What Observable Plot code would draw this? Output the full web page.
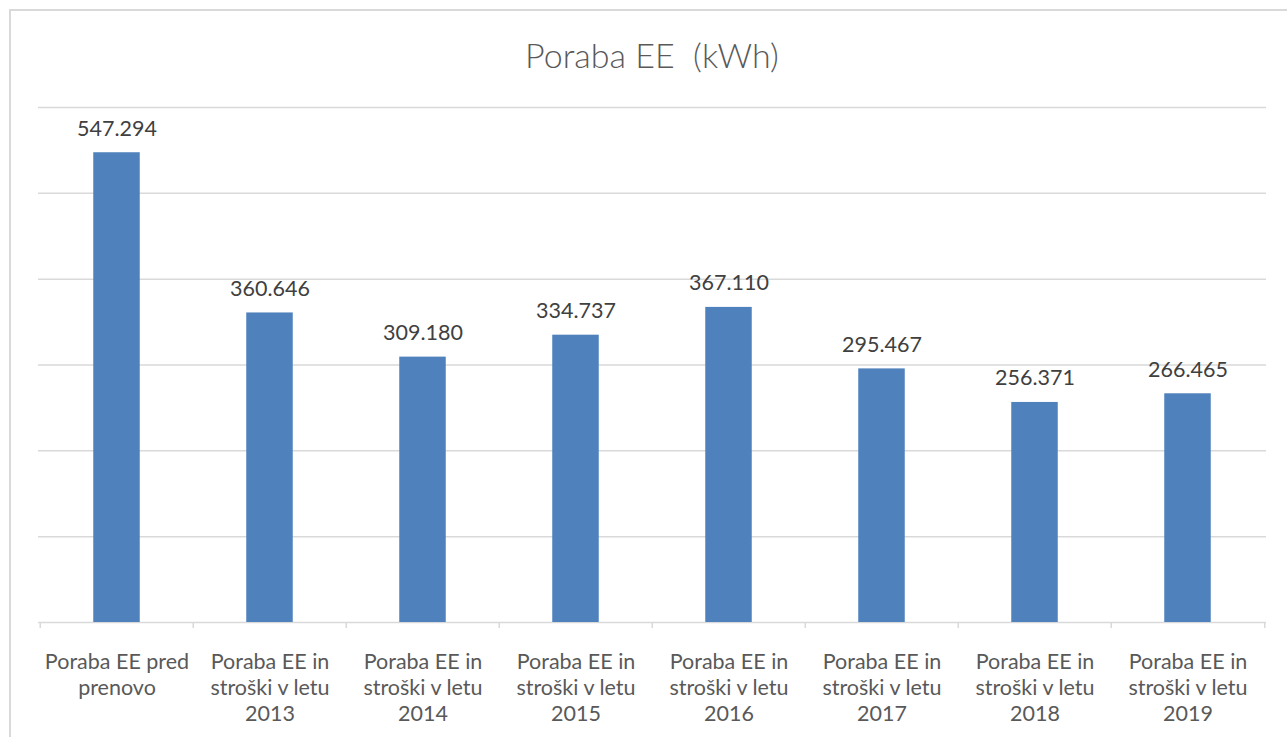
<!DOCTYPE html>
<html>
<head>
<meta charset="utf-8">
<script src="https://cdn.jsdelivr.net/npm/d3@7"></script>
<script src="https://cdn.jsdelivr.net/npm/@observablehq/plot@0.6"></script>
<style>
  html, body { margin: 0; padding: 0; background: #fff; overflow: hidden; }
  #wrap { position: absolute; left: 0; top: 0; width: 1287px; height: 737px; overflow: hidden; }
  #frame { position: absolute; left: 9px; top: 9px; width: 1300px; height: 800px; border: 2px solid #d9d9d9; box-sizing: border-box; }
  #title { position: absolute; left: 0; top: 33px; width: 1304px; text-align: center; font-family: Lato, sans-serif; font-weight: 300; font-size: 34px; color: #595959; white-space: pre; line-height: 44px; }
  #chart { position: absolute; left: 0; top: 100px; }
</style>
</head>
<body>
<div id="wrap">
  <div id="frame"></div>
  <div id="title">Poraba EE  (kWh)</div>
  <div id="chart"></div>
</div>
<script>
const categories = ["pred", "2013", "2014", "2015", "2016", "2017", "2018", "2019"];
const labels = [
  "Poraba EE pred\nprenovo",
  "Poraba EE in\nstroški v letu\n2013",
  "Poraba EE in\nstroški v letu\n2014",
  "Poraba EE in\nstroški v letu\n2015",
  "Poraba EE in\nstroški v letu\n2016",
  "Poraba EE in\nstroški v letu\n2017",
  "Poraba EE in\nstroški v letu\n2018",
  "Poraba EE in\nstroški v letu\n2019"
];
const values = [547294, 360646, 309180, 334737, 367110, 295467, 256371, 266465];
const gridTicks = [100000, 200000, 300000, 400000, 500000, 600000];

const data = categories.map((c, i) => ({cat: c, label: labels[i], value: values[i]}));
const fmt = d3.formatLocale({decimal: ",", thousands: ".", grouping: [3], currency: ["", ""]}).format(",");

const W = 1287, H = 637;
const mL = 38, mR = 21, mT = 7, mB = 115;
const band = (W - mL - mR) / categories.length;
const barW = 47;
const inset = (band - barW) / 2;

const chart = Plot.plot({
  width: W,
  height: H,
  marginLeft: mL,
  marginRight: mR,
  marginTop: mT,
  marginBottom: mB,
  style: {fontFamily: "Lato, sans-serif", background: "transparent", color: "#595959"},
  x: {domain: categories, padding: 0, label: null},
  y: {domain: [0, 600000], axis: null},
  marks: [
    Plot.gridY(gridTicks, {stroke: "#d9d9d9", strokeOpacity: 1, strokeWidth: 1.5}),
    Plot.ruleY([0], {stroke: "#d9d9d9", strokeWidth: 1.5}),
    Plot.ruleX(data, {x: "cat", y1: 0, y2: 0, dx: -band / 2, insetBottom: -6, stroke: "#d9d9d9", strokeWidth: 1.5}),
    Plot.ruleX(data.slice(-1), {x: "cat", y1: 0, y2: 0, dx: band / 2, insetBottom: -6, stroke: "#d9d9d9", strokeWidth: 1.5}),
    Plot.barY(data, {x: "cat", y: "value", fill: "#4f81bd", insetLeft: inset, insetRight: inset}),
    Plot.text(data, {x: "cat", y: "value", text: d => fmt(d.value), dy: -17, lineAnchor: "bottom", fontSize: 21.5, fill: "#404040"}),
    Plot.axisX({tickSize: 0, tickPadding: 28, fontSize: 21.5, lineHeight: 1.21, lineAnchor: "top", tickFormat: (d, i) => labels[categories.indexOf(d)], fill: "#595959"})
  ]
});
document.getElementById("chart").appendChild(chart);
</script>
</body>
</html>
